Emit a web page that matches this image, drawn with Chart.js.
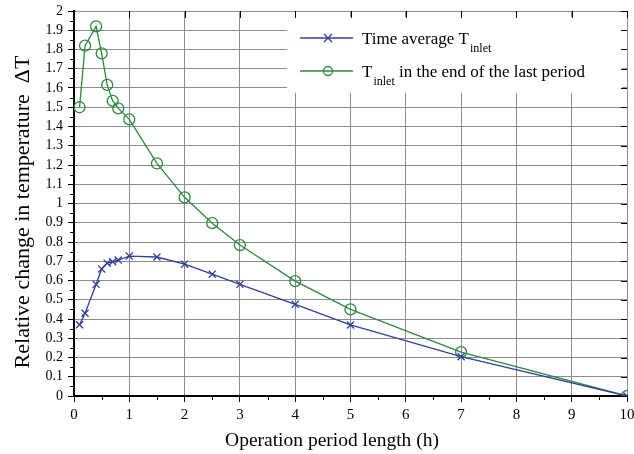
<!DOCTYPE html>
<html>
<head>
<meta charset="utf-8">
<script src="https://cdn.jsdelivr.net/npm/chart.js@4.4.1/dist/chart.umd.min.js"></script>
<style>
  html, body { margin: 0; padding: 0; background: #fff; }
  canvas { display: block; }
</style>
</head>
<body>
<canvas id="tempChart" width="634" height="454"></canvas>
<script>
// operation period length (h)
const periodHours = [0.1, 0.2, 0.4, 0.5, 0.6, 0.7, 0.8, 1, 1.5, 2, 2.5, 3, 4, 5, 7, 10];
// relative change in temperature, time average of T_inlet
const timeAverage = [0.37, 0.43, 0.58, 0.66, 0.69, 0.697, 0.706, 0.727, 0.722, 0.685, 0.633, 0.58, 0.476, 0.369, 0.204, 0];
// relative change in temperature, T_inlet at the end of the last period
const endOfPeriod = [1.50, 1.82, 1.92, 1.78, 1.616, 1.533, 1.494, 1.437, 1.208, 1.032, 0.898, 0.784, 0.597, 0.450, 0.228, 0];
const xTicks = [0, 1, 2, 3, 4, 5, 6, 7, 8, 9, 10];

const BLUE = '#2f3f9e';
const GREEN = '#2b8a3e';
const GRID = '#8c8c8c';
const FONT = '"Liberation Serif", "DejaVu Serif", serif';

const toPoints = (ys) => periodHours.map((x, i) => ({ x: x, y: ys[i] }));

// legend, titles and the extra ticks (minor, top, right)
const extras = {
    id: 'extras',
    afterDraw(chart) {
        const ctx = chart.ctx;
        const xs = chart.scales.x, ys = chart.scales.y;
        const a = chart.chartArea;
        ctx.save();

        // legend box
        ctx.fillStyle = '#fff';
        ctx.fillRect(287, 17, a.right - 5 - 287, 76);
        const rows = [
            { color: BLUE, y: 38, style: 'cross', pre: 'Time average T', post: '' },
            { color: GREEN, y: 71, style: 'circle', pre: 'T', post: ' in the end of the last period' }
        ];
        rows.forEach(r => {
            ctx.strokeStyle = r.color;
            ctx.lineWidth = 1.3;
            ctx.beginPath();
            ctx.moveTo(300, r.y); ctx.lineTo(353, r.y);
            ctx.stroke();
            ctx.beginPath();
            if (r.style === 'circle') {
                ctx.arc(328, r.y, 4.5, 0, Math.PI * 2);
            } else {
                ctx.moveTo(324, r.y - 4); ctx.lineTo(332, r.y + 4);
                ctx.moveTo(324, r.y + 4); ctx.lineTo(332, r.y - 4);
            }
            ctx.stroke();
            ctx.fillStyle = '#000';
            ctx.textBaseline = 'alphabetic';
            ctx.textAlign = 'left';
            ctx.font = '17px ' + FONT;
            let x = 362;
            ctx.fillText(r.pre, x, r.y + 6);
            x += ctx.measureText(r.pre).width + 1;
            ctx.font = '12px ' + FONT;
            ctx.fillText('inlet', x, r.y + 14);
            x += ctx.measureText('inlet').width;
            ctx.font = '17px ' + FONT;
            if (r.post) ctx.fillText(r.post, x, r.y + 6);
        });

        ctx.strokeStyle = '#000';
        ctx.lineWidth = 1;
        // minor ticks, left and bottom
        for (let v = 0.05; v < 2; v += 0.1) {
            const py = Math.round(ys.getPixelForValue(v)) + 0.5;
            ctx.beginPath(); ctx.moveTo(a.left - 4, py); ctx.lineTo(a.left, py); ctx.stroke();
        }
        for (let v = 0.5; v < 10; v += 1) {
            const px = Math.round(xs.getPixelForValue(v)) + 0.5;
            ctx.beginPath(); ctx.moveTo(px, a.bottom); ctx.lineTo(px, a.bottom + 4); ctx.stroke();
        }
        // inward ticks on top and right
        xTicks.forEach(v => {
            const px = Math.round(xs.getPixelForValue(v)) + 0.5;
            ctx.beginPath(); ctx.moveTo(px, a.top); ctx.lineTo(px, a.top + 7); ctx.stroke();
        });
        for (let v = 0; v <= 2.0001; v += 0.1) {
            const py = Math.round(ys.getPixelForValue(v)) + 0.5;
            ctx.beginPath(); ctx.moveTo(a.right - 6, py); ctx.lineTo(a.right, py); ctx.stroke();
        }

        // axis titles
        ctx.fillStyle = '#000';
        ctx.textAlign = 'center';
        ctx.textBaseline = 'alphabetic';
        ctx.font = '19.5px ' + FONT;
        ctx.fillText('Operation period length (h)', 332, 446);
        ctx.font = '22px ' + FONT;
        ctx.translate(29, 212);
        ctx.rotate(-Math.PI / 2);
        ctx.fillText('Relative change in temperature  \u0394T', 0, 0);
        ctx.restore();
    }
};

const config = {
    type: 'line',
    data: {
        datasets: [
            {
                label: 'Time average T inlet',
                data: toPoints(timeAverage),
                borderColor: BLUE,
                backgroundColor: 'transparent',
                borderWidth: 1.3,
                pointStyle: 'crossRot',
                pointRadius: 5,
                pointBorderWidth: 1.3,
                pointBorderColor: BLUE,
                tension: 0
            },
            {
                label: 'T inlet in the end of the last period',
                data: toPoints(endOfPeriod),
                borderColor: GREEN,
                backgroundColor: 'transparent',
                borderWidth: 1.3,
                pointStyle: 'circle',
                pointRadius: 5.5,
                pointBorderWidth: 1.3,
                pointBorderColor: GREEN,
                pointBackgroundColor: 'transparent',
                tension: 0
            }
        ]
    },
    options: {
        responsive: false,
        animation: false,
        layout: { padding: { left: 0, right: 7, top: 11, bottom: 0 } },
        plugins: {
            legend: { display: false },
            tooltip: { enabled: false }
        },
        scales: {
            x: {
                type: 'linear',
                min: 0,
                max: 10,
                afterBuildTicks: (s) => { s.ticks = xTicks.map(v => ({ value: v })); },
                afterFit: (s) => { s.height = 58; s.paddingLeft = 0; s.paddingRight = 0; },
                ticks: {
                    color: '#000',
                    font: { family: FONT, size: 15 },
                    padding: 4,
                    maxRotation: 0,
                    autoSkip: false
                },
                grid: { color: GRID, lineWidth: 1, tickLength: 6, tickColor: '#000' },
                border: { color: '#000', width: 2 }
            },
            y: {
                min: 0,
                max: 2,
                afterFit: (s) => { s.width = 74; s.paddingTop = 0; s.paddingBottom = 0; },
                ticks: {
                    stepSize: 0.1,
                    autoSkip: false,
                    color: '#000',
                    font: { family: FONT, size: 14 },
                    padding: 5,
                    callback: (v) => String(parseFloat(Number(v).toFixed(2)))
                },
                grid: { color: GRID, lineWidth: 1, tickLength: 6, tickColor: '#000' },
                border: { color: '#000', width: 2 }
            }
        }
    },
    plugins: [extras]
};

var tempChart = new Chart(document.getElementById('tempChart'), config);
</script>
</body>
</html>
